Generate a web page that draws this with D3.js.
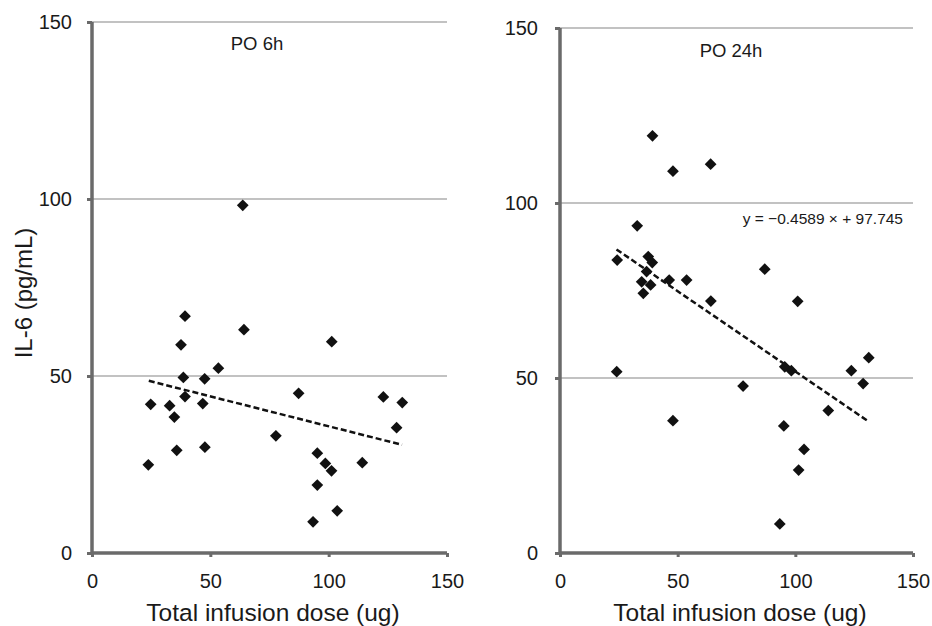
<!DOCTYPE html>
<html>
<head>
<meta charset="utf-8">
<script src="https://cdn.jsdelivr.net/npm/d3@7"></script>
<style>
  body { margin: 0; background: #fff; }
  svg text { font-family: "Liberation Sans", Arial, sans-serif; fill: #1a1a1a; }
</style>
</head>
<body>
<div id="chart"></div>
<script>
// Tick values shared by both panels
const xTicks = [0, 50, 100, 150];
const yTicks = [0, 50, 100, 150];

// PO 6h: total infusion dose (ug) vs IL-6 (pg/mL)
const dose6h = [23.8, 24.8, 32.8, 34.8, 35.8, 37.6, 39.3, 38.6, 39.3, 47.6, 46.8, 47.7, 53.4, 63.7,
  64.2, 77.7, 87.3, 95.2, 98.6, 101.2, 95.2, 101.3, 93.4, 103.6, 114.2, 123.1, 131.1, 128.7];
const il6_6h = [24.9, 42.0, 41.6, 38.4, 29.0, 58.8, 66.9, 49.6, 44.2, 49.2, 42.2, 29.9, 52.2, 98.2,
  63.1, 33.1, 45.1, 28.2, 25.3, 23.2, 19.2, 59.7, 8.8, 11.9, 25.5, 44.1, 42.5, 35.4];
const trend6h = { slope: -0.169, intercept: 52.7, from: 24, to: 131 };

// PO 24h
const dose24h = [39.3, 48.0, 64.0, 32.8, 24.3, 37.5, 39.2, 36.8, 34.7, 38.5, 35.4, 46.4, 53.8, 64.1,
  24.1, 48.0, 77.8, 87.0, 101.0, 95.5, 98.3, 123.8, 131.2, 128.8, 114.0, 95.1, 103.7, 101.4, 93.4];
const il6_24h = [119.2, 109.1, 111.1, 93.5, 83.7, 84.7, 83.0, 80.4, 77.5, 76.6, 74.2, 78.0, 78.0, 72.0,
  51.8, 37.8, 47.7, 81.1, 71.9, 53.2, 52.1, 52.1, 55.8, 48.4, 40.7, 36.3, 29.6, 23.7, 8.3];
const trend24h = { slope: -0.4589, intercept: 97.745, from: 24, to: 131 };
const eq24h = "y = −0.4589 × + 97.745";

const svg = d3.select("#chart").append("svg")
  .attr("width", 932)
  .attr("height", 626);

function drawPanel(opts) {
  const x = d3.scaleLinear().domain([0, 150]).range(opts.xr);
  const y = d3.scaleLinear().domain([0, 150]).range(opts.yr);
  const g = svg.append("g");

  // horizontal gridlines
  g.selectAll(".grid")
    .data(yTicks.filter(d => d > 0))
    .enter().append("line")
    .attr("x1", x(0)).attr("x2", x(150))
    .attr("y1", d => y(d)).attr("y2", d => y(d))
    .attr("stroke", "#c2c2c2")
    .attr("stroke-width", 2);

  // axes
  const yAxis = g.append("g")
    .attr("transform", "translate(" + x(0) + ",0)")
    .call(d3.axisLeft(y).tickValues(yTicks).tickSize(5).tickPadding(opts.yPad));
  const xAxis = g.append("g")
    .attr("transform", "translate(0," + y(0) + ")")
    .call(d3.axisBottom(x).tickValues(xTicks).tickSize(4).tickPadding(17));

  [yAxis, xAxis].forEach(a => {
    a.attr("font-size", null).attr("font-family", null);
    a.select(".domain").attr("stroke", "#6a6a6a").attr("stroke-width", 3.5);
    a.selectAll(".tick line").attr("stroke", "#6a6a6a").attr("stroke-width", 3);
    a.selectAll(".tick text")
      .style("font-size", "20px")
      .attr("fill", "#1a1a1a");
  });
  yAxis.select(".domain").attr("d", "M0," + y(0) + "V" + y(150));
  xAxis.select(".domain").attr("d", "M" + x(0) + ",0H" + x(150));

  // trend line
  const t = opts.trend;
  g.append("line")
    .attr("x1", x(t.from)).attr("y1", y(t.slope * t.from + t.intercept))
    .attr("x2", x(t.to)).attr("y2", y(t.slope * t.to + t.intercept))
    .attr("stroke", "#111")
    .attr("stroke-width", 2.5)
    .attr("stroke-dasharray", "6,3");

  // diamond markers
  const diamond = d3.symbol().type(d3.symbolDiamond2).size(88);
  g.selectAll(".pt")
    .data(opts.xs.map((d, i) => [d, opts.ys[i]]))
    .enter().append("path")
    .attr("d", diamond)
    .attr("transform", d => "translate(" + x(d[0]) + "," + y(d[1]) + ")")
    .attr("fill", "#111");

  // panel title
  g.append("text")
    .attr("x", opts.titleX)
    .attr("y", opts.titleY)
    .attr("text-anchor", "middle")
    .style("font-size", "18.5px")
    .text(opts.title);

  // x axis title
  g.append("text")
    .attr("x", opts.labelX)
    .attr("y", 621)
    .attr("text-anchor", "middle")
    .style("font-size", "24.5px")
    .text("Total infusion dose (ug)");

  return { x: x, y: y, g: g };
}

drawPanel({
  xr: [92, 447], yr: [553, 22], yPad: 15,
  xs: dose6h, ys: il6_6h, trend: trend6h,
  title: "PO 6h", titleX: 257, titleY: 50, labelX: 273
});

const right = drawPanel({
  xr: [560, 913], yr: [553, 28], yPad: 17,
  xs: dose24h, ys: il6_24h, trend: trend24h,
  title: "PO 24h", titleX: 731, titleY: 57, labelX: 740
});

// regression equation on the right panel
right.g.append("text")
  .attr("x", 903)
  .attr("y", 224)
  .attr("text-anchor", "end")
  .style("font-size", "15.5px")
  .text(eq24h);

// shared y axis title
svg.append("text")
  .attr("transform", "translate(32,293) rotate(-90)")
  .attr("text-anchor", "middle")
  .style("font-size", "24px")
  .text("IL-6 (pg/mL)");
</script>
</body>
</html>
